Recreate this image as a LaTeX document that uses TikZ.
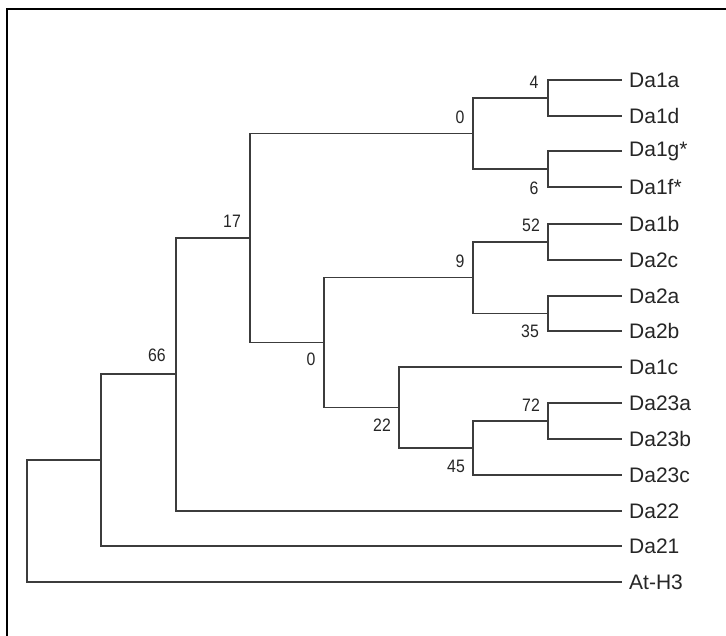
\documentclass[tikz,border=0pt]{standalone}
\usepackage{fontspec}
\setmainfont{Liberation Sans}
\definecolor{branch}{HTML}{3C3C3C}
\definecolor{txt}{HTML}{262626}
\newcommand{\bootval}[1]{\scalebox{0.88}[1]{#1}}
\tikzset{
  br/.style={draw=branch, line width=1.5pt, line cap=rect},
  leaf/.style={anchor=west, inner ysep=0pt, inner xsep=8pt, text=txt, font=\fontsize{21}{24}\selectfont},
  boot/.style={inner sep=0pt, text=txt, font=\fontsize{18}{21}\selectfont},
}
\begin{document}
\begin{tikzpicture}[x=1pt, y=-1pt]
\useasboundingbox (0,0) rectangle (726,636);
\fill[white] (0,0) rectangle (726,636);
% frame
\draw[line width=2pt, black] (727,9) -- (7,9) -- (7,637);
% leaves
\node[leaf] (Da1a)  at (621,80)  {Da1a};
\node[leaf] (Da1d)  at (621,116) {Da1d};
\node[leaf] (Da1g)  at (621,151) {Da1g*};
\node[leaf] (Da1f)  at (621,187) {Da1f*};
\node[leaf] (Da1b)  at (621,224) {Da1b};
\node[leaf] (Da2c)  at (621,260) {Da2c};
\node[leaf] (Da2a)  at (621,296) {Da2a};
\node[leaf] (Da2b)  at (621,331) {Da2b};
\node[leaf] (Da1c)  at (621,367) {Da1c};
\node[leaf] (Da23a) at (621,403) {Da23a};
\node[leaf] (Da23b) at (621,439) {Da23b};
\node[leaf] (Da23c) at (621,475) {Da23c};
\node[leaf] (Da22)  at (621,511) {Da22};
\node[leaf] (Da21)  at (621,546) {Da21};
\node[leaf] (AtH3)  at (621,582) {At-H3};
% internal nodes
\coordinate (n4)   at (548,98);
\coordinate (n6)   at (548,169);
\coordinate (n0a)  at (473,133.5);
\coordinate (n52)  at (548,242);
\coordinate (n35)  at (548,313.5);
\coordinate (n9)   at (473,277.5);
\coordinate (n72)  at (548,421);
\coordinate (n45)  at (473,448);
\coordinate (n22)  at (399,407.5);
\coordinate (n0b)  at (324,342.5);
\coordinate (n17)  at (250,238);
\coordinate (n66)  at (176,374);
\coordinate (n21)  at (101,460);
\coordinate (root) at (27,521);
% branches
\draw[br] (Da1a.west) -| (n4) |- (Da1d.west);
\draw[br] (Da1g.west) -| (n6) |- (Da1f.west);
\draw[br] (n4) -| (n0a) |- (n6);
\draw[br] (Da1b.west) -| (n52) |- (Da2c.west);
\draw[br] (Da2a.west) -| (n35) |- (Da2b.west);
\draw[br] (n52) -| (n9) |- (n35);
\draw[br] (Da23a.west) -| (n72) |- (Da23b.west);
\draw[br] (n72) -| (n45) |- (Da23c.west);
\draw[br] (Da1c.west) -| (n22) |- (n45);
\draw[br] (n9) -| (n0b) |- (n22);
\draw[br] (n0a) -| (n17) |- (n0b);
\draw[br] (n17) -| (n66) |- (Da22.west);
\draw[br] (n66) -| (n21) |- (Da21.west);
\draw[br] (n21) -| (root) |- (AtH3.west);
% bootstrap values
\node[boot] (b4)  at (534,82)  {\bootval{4}};
\node[boot] (b0a) at (460,117) {\bootval{0}};
\node[boot] (b6)  at (534,188) {\bootval{6}};
\node[boot] (b17) at (232,221) {\bootval{17}};
\node[boot] (b52) at (531,225) {\bootval{52}};
\node[boot] (b9)  at (460,261) {\bootval{9}};
\node[boot] (b35) at (530,331) {\bootval{35}};
\node[boot] (b66) at (157,355) {\bootval{66}};
\node[boot] (b0b) at (311,359) {\bootval{0}};
\node[boot] (b72) at (531,405) {\bootval{72}};
\node[boot] (b22) at (382,425) {\bootval{22}};
\node[boot] (b45) at (456,466) {\bootval{45}};
\end{tikzpicture}
\end{document}
